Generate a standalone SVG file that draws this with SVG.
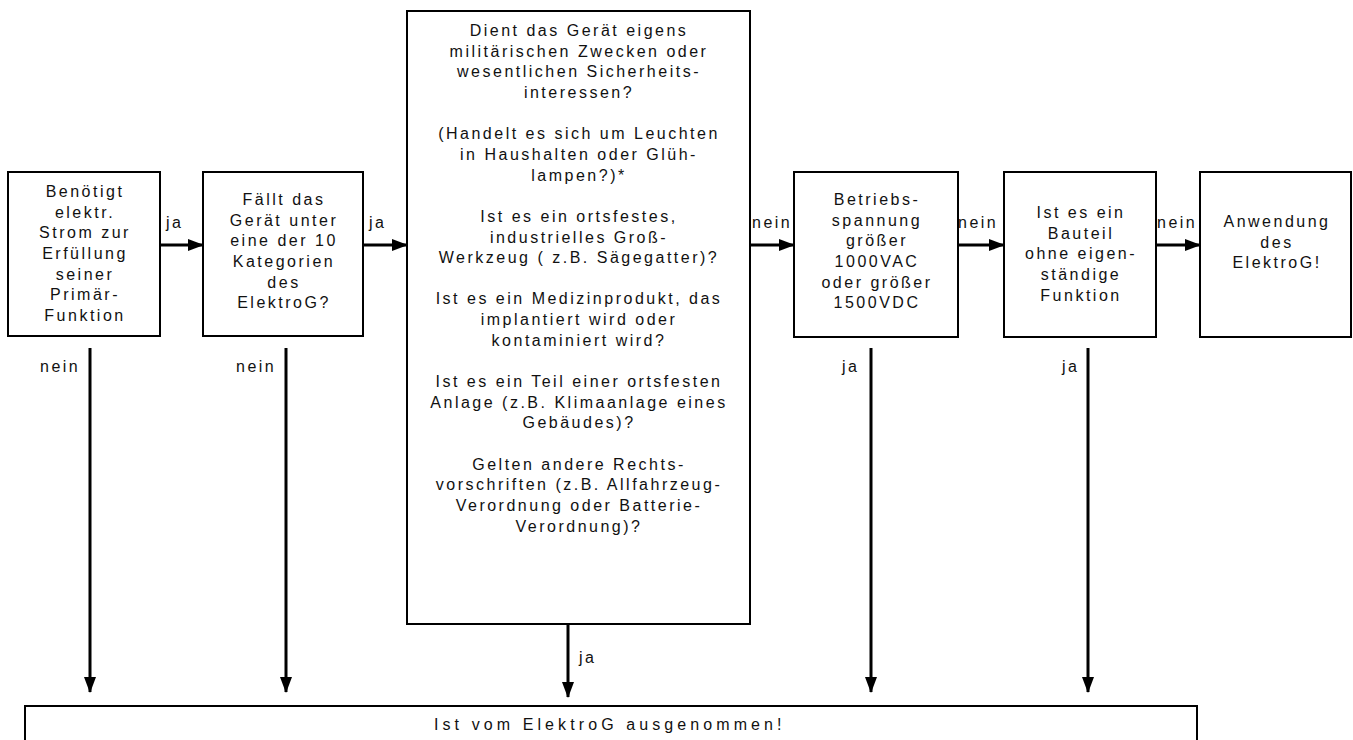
<svg xmlns="http://www.w3.org/2000/svg" width="1353" height="740" viewBox="0 0 1353 740">
<defs>
<style>
.box{fill:#fff;stroke:#000;stroke-width:2}
.t{font-family:"Liberation Sans",Arial,sans-serif;font-size:16px;letter-spacing:2.5px;fill:#111;text-anchor:middle}
.l{font-family:"Liberation Sans",Arial,sans-serif;font-size:16px;letter-spacing:2.5px;fill:#111}
.c{stroke:#000;stroke-width:3;fill:none;marker-end:url(#ah)}
</style>
<marker id="ah" markerUnits="userSpaceOnUse" markerWidth="16" markerHeight="12" refX="15" refY="6" orient="auto">
<path d="M0,0 L16,6 L0,12 Z" fill="#000"/>
</marker>
</defs>
<rect width="1353" height="740" fill="#fff"/>
<g id="connectors">
<line class="c" x1="160" y1="245" x2="203" y2="245"/>
<line class="c" x1="363" y1="245" x2="407" y2="245"/>
<line class="c" x1="750" y1="245" x2="794" y2="245"/>
<line class="c" x1="958" y1="245" x2="1004" y2="245"/>
<line class="c" x1="1156" y1="245" x2="1200" y2="245"/>
<line class="c" x1="90" y1="348" x2="90" y2="692"/>
<line class="c" x1="286" y1="348" x2="286" y2="692"/>
<line class="c" x1="568" y1="624" x2="568" y2="697"/>
<line class="c" x1="871" y1="348" x2="871" y2="692"/>
<line class="c" x1="1088" y1="348" x2="1088" y2="692"/>
<text class="l" x="166" y="228">ja</text>
<text class="l" x="369" y="228">ja</text>
<text class="l" x="752" y="228">nein</text>
<text class="l" x="958" y="228">nein</text>
<text class="l" x="1157" y="228">nein</text>
<text class="l" x="40" y="372">nein</text>
<text class="l" x="236" y="372">nein</text>
<text class="l" x="842" y="372">ja</text>
<text class="l" x="1062" y="372">ja</text>
<text class="l" x="579" y="663">ja</text>
</g>
<g id="n1">
<rect class="box" x="8" y="172" width="152" height="164"/>
<text class="t" y="197"><tspan x="85">Benötigt</tspan><tspan x="85" dy="20.65">elektr.</tspan><tspan x="85" dy="20.65">Strom zur</tspan><tspan x="85" dy="20.65">Erfüllung</tspan><tspan x="85" dy="20.65">seiner</tspan><tspan x="85" dy="20.65">Primär-</tspan><tspan x="85" dy="20.65">Funktion</tspan></text>
</g>
<g id="n2">
<rect class="box" x="203" y="172" width="160" height="164"/>
<text class="t" y="205"><tspan x="284">Fällt das</tspan><tspan x="284" dy="20.65">Gerät unter</tspan><tspan x="284" dy="20.65">eine der 10</tspan><tspan x="284" dy="20.65">Kategorien</tspan><tspan x="284" dy="20.65">des</tspan><tspan x="284" dy="20.65">ElektroG?</tspan></text>
</g>
<g id="n3">
<rect class="box" x="407" y="11" width="343" height="613"/>
<text class="t" y="36"><tspan x="579">Dient das Gerät eigens</tspan><tspan x="579" dy="20.65">militärischen Zwecken oder</tspan><tspan x="579" dy="20.65">wesentlichen Sicherheits-</tspan><tspan x="579" dy="20.65">interessen?</tspan><tspan x="579" dy="41.3">(Handelt es sich um Leuchten</tspan><tspan x="579" dy="20.65">in Haushalten oder Glüh-</tspan><tspan x="579" dy="20.65">lampen?)*</tspan><tspan x="579" dy="41.3">Ist es ein ortsfestes,</tspan><tspan x="579" dy="20.65">industrielles Groß-</tspan><tspan x="579" dy="20.65">Werkzeug ( z.B. Sägegatter)?</tspan><tspan x="579" dy="41.3">Ist es ein Medizinprodukt, das</tspan><tspan x="579" dy="20.65">implantiert wird oder</tspan><tspan x="579" dy="20.65">kontaminiert wird?</tspan><tspan x="579" dy="41.3">Ist es ein Teil einer ortsfesten</tspan><tspan x="579" dy="20.65">Anlage (z.B. Klimaanlage eines</tspan><tspan x="579" dy="20.65">Gebäudes)?</tspan><tspan x="579" dy="41.3">Gelten andere Rechts-</tspan><tspan x="579" dy="20.65">vorschriften (z.B. Allfahrzeug-</tspan><tspan x="579" dy="20.65">Verordnung oder Batterie-</tspan><tspan x="579" dy="20.65">Verordnung)?</tspan></text>
</g>
<g id="n4">
<rect class="box" x="794" y="172" width="164" height="165"/>
<text class="t" y="205"><tspan x="877">Betriebs-</tspan><tspan x="877" dy="20.65">spannung</tspan><tspan x="877" dy="20.65">größer</tspan><tspan x="877" dy="20.65">1000VAC</tspan><tspan x="877" dy="20.65">oder größer</tspan><tspan x="877" dy="20.65">1500VDC</tspan></text>
</g>
<g id="n5">
<rect class="box" x="1004" y="172" width="152" height="165"/>
<text class="t" y="218"><tspan x="1081">Ist es ein</tspan><tspan x="1081" dy="20.65">Bauteil</tspan><tspan x="1081" dy="20.65">ohne eigen-</tspan><tspan x="1081" dy="20.65">ständige</tspan><tspan x="1081" dy="20.65">Funktion</tspan></text>
</g>
<g id="n6">
<rect class="box" x="1200" y="172" width="151" height="165"/>
<text class="t" y="227"><tspan x="1277">Anwendung</tspan><tspan x="1277" dy="20.65">des</tspan><tspan x="1277" dy="20.65">ElektroG!</tspan></text>
</g>
<g id="n7">
<rect class="box" x="25" y="706" width="1172" height="60"/>
<text class="l" x="434" y="730" textLength="350" lengthAdjust="spacing">Ist vom ElektroG ausgenommen!</text>
</g>
</svg>
